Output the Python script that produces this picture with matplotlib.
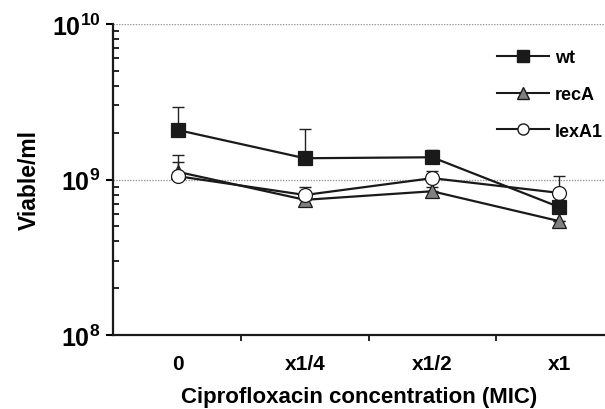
import matplotlib
matplotlib.use("Agg")
import matplotlib.pyplot as plt
from matplotlib.ticker import LogLocator, NullFormatter, FixedLocator
from matplotlib.lines import Line2D
import numpy as np

categories = ["0", "x1/4", "x1/2", "x1"]
wt = [2.08e9, 1.37e9, 1.39e9, 6.65e8]
wt_top = [2.92e9, 2.11e9, 1.55e9, 6.65e8]
recA = [1.12e9, 7.4e8, 8.4e8, 5.4e8]
recA_top = [1.44e9, 7.6e8, 8.9e8, 5.4e8]
lexA1 = [1.05e9, 7.95e8, 1.02e9, 8.2e8]
lexA1_top = [1.30e9, 8.95e8, 1.13e9, 1.06e9]
ytick_vals = [1e8, 1e9, 1e10]
ytick_labels = [r'$\mathbf{10^{8}}$', r'$\mathbf{10^{9}}$', r'$\mathbf{10^{10}}$']

plt.rcParams['font.family'] = ['Liberation Sans', 'DejaVu Sans']
plt.rcParams['font.weight'] = 'bold'
plt.rcParams['mathtext.fontset'] = 'custom'
plt.rcParams['mathtext.bf'] = 'Liberation Sans:bold'
plt.rcParams['mathtext.rm'] = 'Liberation Sans:bold'

fig = plt.figure(figsize=(6.05, 4.10), dpi=100)
ax = fig.add_axes([113/605, 1-336/410, 1-113/605, (336-25)/410])

x = np.arange(len(categories))

def draw(vals, tops, marker, face, ms, label, z):
    vals = np.array(vals); tops = np.array(tops)
    ax.errorbar(x, vals, yerr=[np.zeros_like(vals), tops - vals], fmt='none',
                ecolor='#222222', elinewidth=1.0, capsize=4, capthick=1.0, zorder=z)
    ax.plot(x, vals, color='#1a1a1a', lw=1.6, marker=marker, markersize=ms,
            markerfacecolor=face, markeredgecolor='#1a1a1a', markeredgewidth=0.9,
            label=label, zorder=z + 1)

draw(recA, recA_top, '^', '#808080', 10, 'recA', 3)
draw(lexA1, lexA1_top, 'o', 'white', 10, 'lexA1', 5)
draw(wt, wt_top, 's', '#1a1a1a', 10, 'wt', 7)

ax.set_yscale('log')
ax.set_ylim(1e8, 1e10)
ax.set_xlim(-0.51, 3.36)

ax.yaxis.set_major_locator(FixedLocator(ytick_vals))
ax.yaxis.set_minor_locator(LogLocator(base=10, subs=np.arange(2, 10)))
ax.yaxis.set_minor_formatter(NullFormatter())
ax.set_yticklabels(ytick_labels)
ax.tick_params(axis='y', which='major', direction='out', length=5, width=1.5,
               labelsize=18, pad=4)
ax.tick_params(axis='y', which='minor', direction='in', length=4, width=1.2)

ax.set_xticks(x)
ax.set_xticklabels(categories)
ax.set_xticks([0.5, 1.5, 2.5], minor=True)
ax.tick_params(axis='x', which='major', length=0, labelsize=15, pad=14)
ax.tick_params(axis='x', which='minor', direction='out', length=4, width=1.2)

for yv in [1e9, 1e10]:
    ax.axhline(yv, color='#999999', lw=1.0, ls=(0, (1, 1)), zorder=1)

for s in ['top', 'right']:
    ax.spines[s].set_visible(False)
for s in ['left', 'bottom']:
    ax.spines[s].set_linewidth(1.6)
    ax.spines[s].set_color('#1a1a1a')

ax.set_xlabel('Ciprofloxacin concentration (MIC)', fontsize=16, fontweight='bold', labelpad=9)
ax.set_ylabel('Viable/ml', fontsize=16.5, fontweight='bold', labelpad=8)

handles = [
    Line2D([], [], color='#1a1a1a', lw=1.5, marker='s', markersize=8, markerfacecolor='#1a1a1a', markeredgecolor='#1a1a1a'),
    Line2D([], [], color='#1a1a1a', lw=1.5, marker='^', markersize=8, markerfacecolor='#808080', markeredgecolor='#1a1a1a'),
    Line2D([], [], color='#1a1a1a', lw=1.5, marker='o', markersize=8, markerfacecolor='white', markeredgecolor='#1a1a1a'),
]
leg = ax.legend(handles, ['wt', 'recA', 'lexA1'], loc='upper left',
                bbox_to_anchor=(497/605, 1-50/410), bbox_transform=fig.transFigure,
                frameon=False, fontsize=13, handlelength=2.9, handletextpad=0.3,
                labelspacing=1.1, borderpad=0, borderaxespad=0)
for t in leg.get_texts():
    t.set_fontweight('bold')

fig.savefig('out.png', dpi=100)
